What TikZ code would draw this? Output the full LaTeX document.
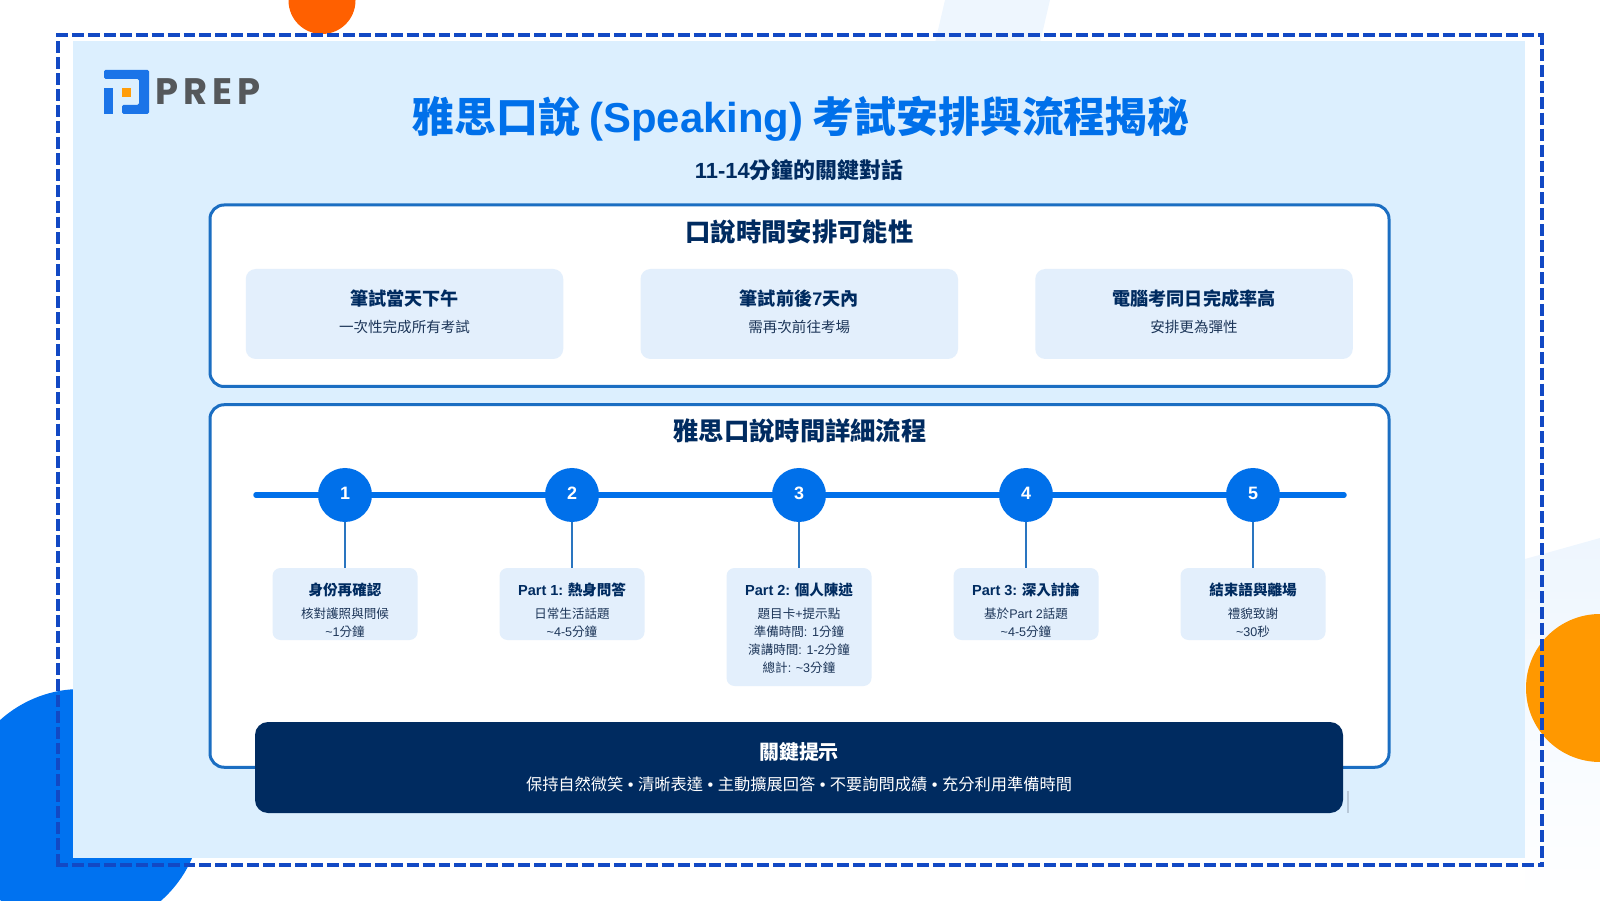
\documentclass[tikz,border=0pt]{standalone}
\usepackage{fontspec}
\setmainfont{Noto Sans CJK TC}
\newfontfamily\latinfont{Liberation Sans}
\newfontfamily\logofont[LetterSpace=13]{Poppins}
\newcommand{\lat}[1]{{\latinfont #1}}
\newcommand{\pxfont}[2]{\fontsize{\fpeval{#1*0.5669}}{\fpeval{#2*0.5669}}\selectfont}
\definecolor{panelblue}{HTML}{DCEFFE}
\definecolor{tintblue}{HTML}{EEF6FE}
\definecolor{framedash}{HTML}{1249C4}
\definecolor{brandblue}{HTML}{0070EA}
\definecolor{blobblue}{HTML}{0072F0}
\definecolor{logoblue}{HTML}{1B74E8}
\definecolor{cardline}{HTML}{1B6EC2}
\definecolor{softbox}{HTML}{E3EFFC}
\definecolor{navy}{HTML}{002B60}
\definecolor{bodyink}{HTML}{1C3558}
\definecolor{stemline}{HTML}{2A75C0}
\definecolor{blobred}{HTML}{FF6000}
\definecolor{bloborange}{HTML}{FF9800}
\definecolor{logoorange}{HTML}{FF9D0A}
\definecolor{logogray}{HTML}{55585B}
\definecolor{tickgray}{HTML}{B8C8D8}
\tikzset{
    frameline/.style={draw=framedash, line width=0.08cm, dash pattern=on 6.8pt off 2.27pt},
    cardbox/.style={draw=cardline, fill=white, line width=0.06cm, rounded corners=0.28cm, minimum width=23.58cm, inner sep=0pt},
    slotbox/.style={fill=softbox, rounded corners=0.2cm, minimum width=6.35cm, minimum height=1.8cm, inner sep=0pt},
    stepdot/.style={circle, fill=brandblue, minimum size=1.08cm, inner sep=0pt, text=white, text depth=0.08cm, font=\latinfont\bfseries\pxfont{18}{22}},
    stepbox/.style={fill=softbox, rounded corners=0.16cm, minimum width=2.9cm, inner sep=0pt},
    stepstem/.style={draw=stemline, line width=0.04cm},
    headtext/.style={text=navy, font=\bfseries\pxfont{25.4}{30}, inner sep=0pt},
    slottitle/.style={text=navy, font=\bfseries\pxfont{18.2}{22}, inner sep=0pt},
    slotnote/.style={text=bodyink, font=\pxfont{14.6}{18}, inner sep=0pt},
    steptitle/.style={text=navy, font=\bfseries\pxfont{14.6}{18}, inner sep=0pt},
    stepnote/.style={text=bodyink, font=\pxfont{12.6}{18}, inner sep=0pt, align=center},
}

\begin{document}
\begin{tikzpicture}
    \useasboundingbox (0,0) rectangle (32,18);
    \clip (0,0) rectangle (32,18);

    \fill[tintblue] (18.9,18) -- (21,18) -- (20.72,16.8) -- (18.62,16.8) -- cycle;
    \shade[top color=tintblue, bottom color=white] (30.5,6.82) -- (32,7.24) -- (32,0) -- (30.5,0) -- cycle;
    \fill[blobred] (6.44,17.99) circle (0.67);
    \fill[blobblue] (1.62,1.8) circle (2.42);
    \fill[bloborange] (32,4.24) circle (1.48);
    \fill[panelblue] (1.46,17.18) rectangle (30.5,0.84);

    \draw[frameline] (1.12,17.3) -- (30.88,17.3);
    \draw[frameline] (1.12,0.7) -- (30.88,0.7);
    \draw[frameline, dash phase=4.4pt] (1.16,17.34) -- (1.16,0.66);
    \draw[frameline] (30.84,17.34) -- (30.84,0.66);

    \fill[logoblue, rounded corners=0.03cm] (2.08,16.6) -- (2.98,16.6) -- (2.98,15.72) -- (2.44,15.72) -- (2.44,15.9) -- (2.78,15.9) -- (2.78,16.42) -- (2.08,16.42) -- cycle;
    \fill[logoblue] (2.08,16.24) rectangle (2.26,15.72);
    \fill[logoorange] (2.44,16.24) rectangle (2.62,16.06);
    \node[anchor=west, inner sep=0pt, text=logogray, font=\logofont\bfseries\pxfont{37}{44}] (logotext) at (3.11,16.16) {PREP};

    \node[text=brandblue, font=\bfseries\pxfont{42}{50}, inner sep=0pt] (maintitle) at (16.02,15.62) {雅思口說 \lat{(Speaking)} 考試安排與流程揭秘};
    \node[text=navy, font=\bfseries\pxfont{22}{26}, inner sep=0pt] (subtitle) at (15.98,14.6) {\lat{11-14}分鐘的關鍵對話};

    \node[cardbox, minimum height=3.63cm] (schedulecard) at (15.99,12.085) {};
    \node[headtext] (scheduletitle) at (15.99,13.36) {口說時間安排可能性};

    \node[slotbox] (slotone) at (8.09,11.72) {};
    \node[slottitle] (slotonetitle) at (8.09,12.03) {筆試當天下午};
    \node[slotnote] (slotonenote) at (8.09,11.46) {一次性完成所有考試};
    \node[slotbox] (slottwo) at (15.985,11.72) {};
    \node[slottitle] (slottwotitle) at (15.985,12.03) {筆試前後\lat{7}天內};
    \node[slotnote] (slottwonote) at (15.985,11.46) {需再次前往考場};
    \node[slotbox] (slotthree) at (23.88,11.72) {};
    \node[slottitle] (slotthreetitle) at (23.88,12.03) {電腦考同日完成率高};
    \node[slotnote] (slotthreenote) at (23.88,11.46) {安排更為彈性};

    \node[cardbox, minimum height=7.25cm] (flowcard) at (15.99,6.28) {};
    \node[headtext] (flowtitle) at (16,9.38) {雅思口說時間詳細流程};

    \coordinate (linestart) at (5.12,8.1);
    \coordinate (lineend) at (26.88,8.1);
    \draw[draw=brandblue, line width=0.11cm, line cap=round] (linestart) -- (lineend);

    \node[stepdot] (stepone) at (6.9,8.1) {1};
    \node[stepdot] (steptwo) at (11.44,8.1) {2};
    \node[stepdot] (stepthree) at (15.98,8.1) {3};
    \node[stepdot] (stepfour) at (20.52,8.1) {4};
    \node[stepdot] (stepfive) at (25.06,8.1) {5};

    \node[stepbox, minimum height=1.44cm] (boxone) at (6.9,5.92) {};
    \node[stepbox, minimum height=1.44cm] (boxtwo) at (11.44,5.92) {};
    \node[stepbox, minimum height=2.36cm] (boxthree) at (15.98,5.46) {};
    \node[stepbox, minimum height=1.44cm] (boxfour) at (20.52,5.92) {};
    \node[stepbox, minimum height=1.44cm] (boxfive) at (25.06,5.92) {};

    \draw[stepstem] (stepone) -- (boxone);
    \draw[stepstem] (steptwo) -- (boxtwo);
    \draw[stepstem] (stepthree) -- (boxthree);
    \draw[stepstem] (stepfour) -- (boxfour);
    \draw[stepstem] (stepfive) -- (boxfive);

    \node[steptitle] (boxonetitle) at (6.9,6.2) {身份再確認};
    \node[stepnote] (boxonenote) at (6.9,5.544) {核對護照與問候\\\lat{\textasciitilde 1}分鐘};
    \node[steptitle] (boxtwotitle) at (11.44,6.2) {\lat{Part 1:} 熱身問答};
    \node[stepnote] (boxtwonote) at (11.44,5.544) {日常生活話題\\\lat{\textasciitilde 4-5}分鐘};
    \node[steptitle] (boxthreetitle) at (15.98,6.2) {\lat{Part 2:} 個人陳述};
    \node[stepnote] (boxthreenote) at (15.98,5.18) {題目卡\lat{+}提示點\\準備時間\lat{: 1}分鐘\\演講時間\lat{: 1-2}分鐘\\總計\lat{: \textasciitilde 3}分鐘};
    \node[steptitle] (boxfourtitle) at (20.52,6.2) {\lat{Part 3:} 深入討論};
    \node[stepnote] (boxfournote) at (20.52,5.544) {基於\lat{Part 2}話題\\\lat{\textasciitilde 4-5}分鐘};
    \node[steptitle] (boxfivetitle) at (25.06,6.2) {結束語與離場};
    \node[stepnote] (boxfivenote) at (25.06,5.544) {禮貌致謝\\\lat{\textasciitilde 30}秒};

    \node[fill=navy, rounded corners=0.26cm, minimum width=21.76cm, minimum height=1.82cm, inner sep=0pt] (tipbar) at (15.98,2.65) {};
    \node[text=white, font=\bfseries\pxfont{20}{24}, inner sep=0pt] (tiptitle) at (15.98,2.96) {關鍵提示};
    \node[text=white, font=\pxfont{16.3}{20}, inner sep=0pt] (tipnote) at (15.98,2.32) {保持自然微笑\lat{ • }清晰表達\lat{ • }主動擴展回答\lat{ • }不要詢問成績\lat{ • }充分利用準備時間};

    \draw[draw=tickgray, line width=0.04cm] (26.96,2.18) -- (26.96,1.74);
\end{tikzpicture}
\end{document}
